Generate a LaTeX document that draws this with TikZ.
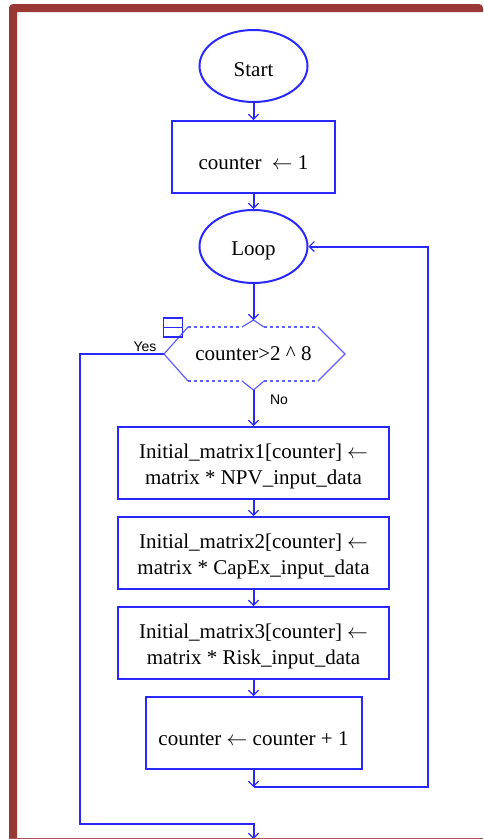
\documentclass[tikz,border=0pt]{standalone}
\usepackage{fontspec}
\setmainfont{Liberation Serif}
\newfontfamily\labelfont{Liberation Sans}
\usetikzlibrary{shapes.geometric,arrows.meta,calc}
\definecolor{flowblue}{RGB}{40,40,255}
\definecolor{hexblue}{RGB}{95,95,255}
\definecolor{framered}{RGB}{153,57,53}
\newcommand{\assignarrow}{$\leftarrow$}

\begin{document}
\begin{tikzpicture}[x=1pt,y=-1pt,
  conn/.style={draw=flowblue, line width=2pt},
  tip/.style={-{Straight Barb[length=5pt,width=10pt,line width=1.2pt]}},
  term/.style={ellipse, draw=flowblue, line width=2pt, minimum width=108pt,
    minimum height=72pt, inner sep=0pt},
  proc/.style={rectangle, draw=flowblue, line width=2pt, minimum height=72pt,
    inner sep=0pt},
  txt/.style={font=\fontsize{21}{26}\selectfont, align=center, text=black,
    inner sep=0pt},
  yn/.style={font=\labelfont\fontsize{14}{16}\selectfont, text=black, inner sep=0pt},
  hexedge/.style={draw=hexblue, line width=1.2pt},
  hexdash/.style={draw=hexblue, line width=1.2pt, dash pattern=on 3pt off 3pt}
]
\useasboundingbox (0,0) rectangle (483,839);

% terminals and process boxes
\node[term, label={[txt,yshift=-4pt]center:Start}] (start) at (253.5,66) {};
\node[proc, minimum width=163pt,
  label={[txt,yshift=-6pt]center:counter\ \ \assignarrow{} 1}] (init) at (253.5,157) {};
\node[term, minimum height=73pt,
  label={[txt,yshift=-4pt]center:Loop}] (loop) at (253.5,246.5) {};

% loop test (hexagon with notches)
\node[txt] (dec) at (253.5,354) {counter>2 \textasciicircum{} 8};
\coordinate (dtop) at (253.5,320);
\coordinate (dbot) at (253.5,390);
\coordinate (dleft) at (164,354);
\coordinate (dright) at (345,354);
\path[hexedge] (dleft) -- (188,327) (318,327) -- (dright) -- (318,381)
  (188,381) -- (dleft);
\path[hexdash] (188,327) -- (242,327) (264,327) -- (318,327)
  (188,381) -- (242,381) (264,381) -- (318,381);
\path[hexedge] (242,327) -- (dtop) -- (264,327)
  (242,381) -- (dbot) -- (264,381);
\node[draw=flowblue, line width=1.5pt, minimum size=19pt, inner sep=0pt]
  (fold) at (173,327.5) {};
\draw[flowblue, line width=1.5pt] (fold.west) -- (fold.east);

\node[yn] (yes) at (145,347) {Yes};
\node[yn] (no) at (279,400) {No};

% loop body
\node[proc, minimum width=271pt,
  label={[txt,yshift=-3pt]center:Initial\_matrix1[counter] \assignarrow\\matrix * NPV\_input\_data}]
  (b1) at (253.5,463) {};
\node[proc, minimum width=271pt,
  label={[txt,yshift=-3pt]center:Initial\_matrix2[counter] \assignarrow\\matrix * CapEx\_input\_data}]
  (b2) at (253.5,553) {};
\node[proc, minimum width=271pt,
  label={[txt,yshift=-3pt]center:Initial\_matrix3[counter] \assignarrow\\matrix * Risk\_input\_data}]
  (b3) at (253.5,643) {};
\node[proc, minimum width=216pt,
  label={[txt,yshift=-6pt]center:counter \assignarrow{} counter + 1}]
  (b4) at (253.5,733) {};

\coordinate (join) at (253.5,787);
\coordinate (back) at (428,787);
\coordinate (yescorner) at (80,824);
\coordinate (exit) at (253.5,839);

% connectors
\draw[conn,tip] (start) -- (init);
\draw[conn,tip] (init) -- (loop);
\draw[conn,tip] (loop) -- (dtop);
\draw[conn,tip] (dbot) -- (b1);
\draw[conn,tip] (b1) -- (b2);
\draw[conn,tip] (b2) -- (b3);
\draw[conn,tip] (b3) -- (b4);
\draw[conn,tip] (b4) -- (join);
\draw[conn,tip] (join) -- (back) |- (loop.east);
\draw[conn,tip] (dleft) -| (yescorner) -| (exit);

% page frame
\fill[framered] (9,839) [rounded corners=4pt] -- (9,4) -- (483,4)
  [sharp corners] -- (483,12) -- (17,12) -- (17,839) -- cycle;
\draw[framered!85, line width=1.2pt] (9,838.4) -- (483,838.4);
\end{tikzpicture}
\end{document}
